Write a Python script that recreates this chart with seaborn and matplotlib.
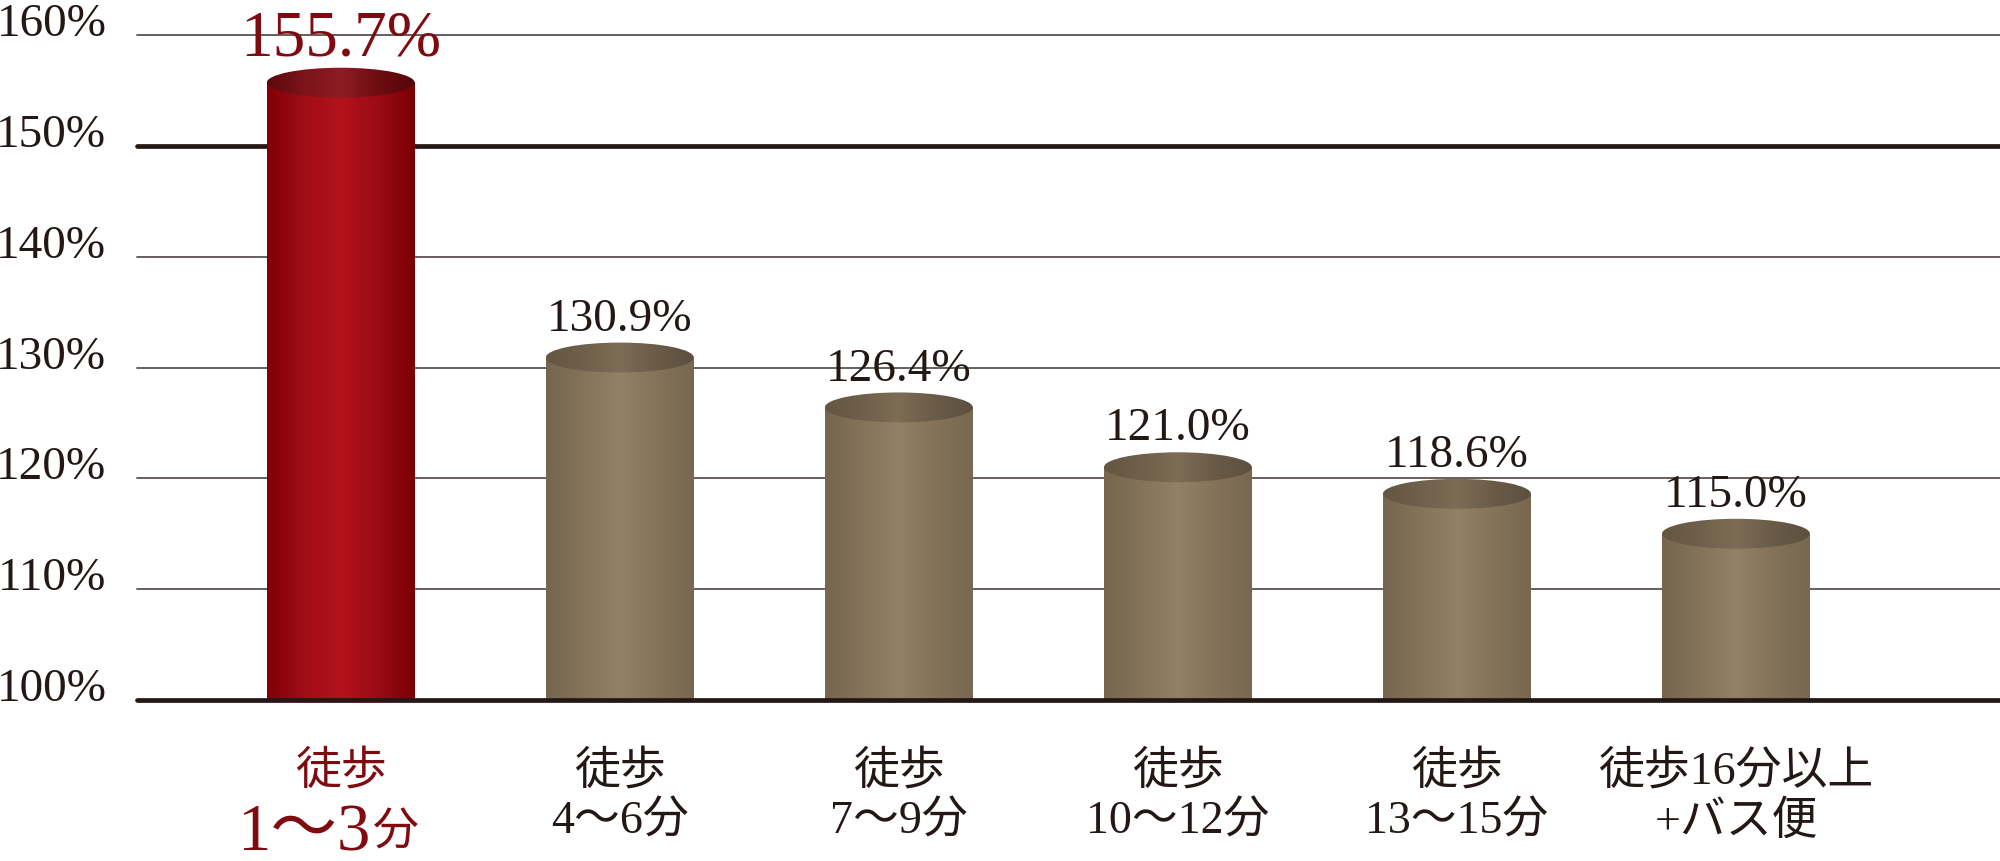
import numpy as np
import matplotlib
matplotlib.use('Agg')
import matplotlib.pyplot as plt
import matplotlib.transforms as mtransforms
from matplotlib.colors import LinearSegmentedColormap
from matplotlib.patches import Ellipse
import seaborn as sns

# data
categories = ['徒歩\n1〜3分', '徒歩\n4〜6分', '徒歩\n7〜9分', '徒歩\n10〜12分', '徒歩\n13〜15分', '徒歩16分以上\n+バス便']
values = [155.7, 130.9, 126.4, 121.0, 118.6, 115.0]
value_labels = ['155.7%', '130.9%', '126.4%', '121.0%', '118.6%', '115.0%']
y_ticks = [100, 110, 120, 130, 140, 150, 160]
y_tick_labels = ['100%', '110%', '120%', '130%', '140%', '150%', '160%']

sns.set_style('white')
plt.rcParams['font.family'] = ['Liberation Serif', 'Noto Sans CJK JP', 'DejaVu Sans']

INK = '#231815'
RED_TXT = '#7f0a0f'
red_body = LinearSegmentedColormap.from_list('rb', ['#820005', '#a00d16', '#b3121c', '#9c0c14', '#7a0004'])
red_top = LinearSegmentedColormap.from_list('rt', ['#5c080d', '#7c141a', '#8e1c23', '#6e0c12', '#560609'])
brn_body = LinearSegmentedColormap.from_list('bb', ['#766650', '#847359', '#928167', '#847359', '#786851'])
brn_top = LinearSegmentedColormap.from_list('bt', ['#645641', '#6f604b', '#7d6d56', '#6a5b47', '#5d5040'])

fig = plt.figure(figsize=(20, 8.62), dpi=100)
ax = fig.add_axes([0.0685, 0.1868, 0.9315, 0.7714])

sns.barplot(x=categories, y=values, width=0.53, color='#847359', ax=ax, zorder=2)

y_floor = 100
grad = np.linspace(0, 1, 256).reshape(1, -1)
for i, patch in enumerate(ax.patches):
    x0 = patch.get_x()
    w = patch.get_width()
    h = patch.get_height()
    body = red_body if i == 0 else brn_body
    top = red_top if i == 0 else brn_top
    patch.set_edgecolor('none')
    ax.imshow(grad, cmap=body, extent=[x0, x0 + w, y_floor, h], aspect='auto', zorder=2.1)
    ell = Ellipse((x0 + w / 2, h), width=w, height=2.7, facecolor='none', edgecolor='none', zorder=3)
    ax.add_patch(ell)
    im2 = ax.imshow(grad, cmap=top, extent=[x0, x0 + w, h - 1.5, h + 1.5], aspect='auto', zorder=3.1)
    im2.set_clip_path(ell)

# gridlines
for v in y_ticks:
    heavy = v in (100, 150)
    ax.axhline(v, color=INK if heavy else '#5b5250', lw=3.4 if heavy else 1.3,
               zorder=4 if v == 100 else 1, clip_on=False)

ax.set_xlim(-0.73, 5.946)
ax.set_ylim(100, 160)
ax.set_yticks(y_ticks)
ax.set_yticklabels(y_tick_labels)
ax.tick_params(axis='y', length=0, pad=22, labelsize=34, labelcolor=INK)
for lab in ax.get_yticklabels():
    lab.set_verticalalignment('baseline')
ax.set_xticks(range(len(categories)))
ax.set_xticklabels([])
ax.tick_params(axis='x', length=0)
for s in ax.spines.values():
    s.set_visible(False)

# value labels
for i, (v, t) in enumerate(zip(values, value_labels)):
    if i == 0:
        ax.annotate(t, (i, v), xytext=(0, 20), textcoords='offset points', ha='center', va='baseline',
                    fontsize=47, color=RED_TXT, zorder=5)
    else:
        ax.annotate(t, (i, v), xytext=(0, 20), textcoords='offset points', ha='center', va='baseline',
                    fontsize=34, color=INK, zorder=5)

# category labels
xt = ax.get_xaxis_transform()
for i, c in enumerate(categories):
    line1, line2 = c.split('\n')
    col = RED_TXT if i == 0 else INK
    ax.text(i, -0.107, line1, transform=xt, ha='center', va='center', fontsize=33, color=col)
    if i == 0:
        tr1 = mtransforms.offset_copy(xt, fig=fig, x=30, y=0, units='dots')
        tr2 = mtransforms.offset_copy(xt, fig=fig, x=32, y=0, units='dots')
        ax.text(i, -0.2, line2[:-1], transform=tr1, ha='right', va='center', fontsize=48, color=col)
        ax.text(i, -0.2, line2[-1], transform=tr2, ha='left', va='center', fontsize=33, color=col)
    else:
        ax.text(i, -0.183, line2, transform=xt, ha='center', va='center', fontsize=33, color=col)

fig.savefig('out.png', dpi=100)
